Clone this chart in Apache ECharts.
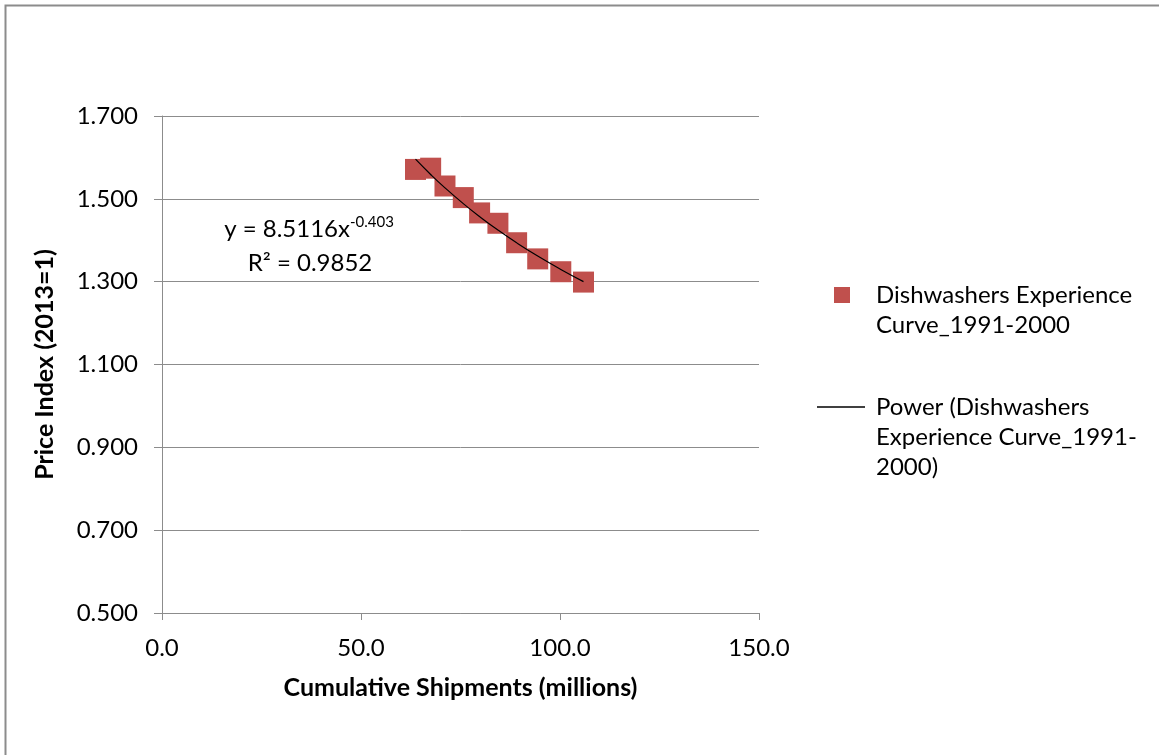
<!DOCTYPE html>
<html>
<head>
<meta charset="utf-8">
<script src="https://cdn.jsdelivr.net/npm/echarts@6/dist/echarts.min.js"></script>
<style>
  html, body { margin: 0; padding: 0; background: #fff; }
  #chart { width: 1159px; height: 755px; }
</style>
</head>
<body>
<div id="chart"></div>
<script>
// Cumulative dishwasher shipments (millions) and price index, 1991-2000
const shipments = [63.7, 67.5, 71.1, 75.7, 79.8, 84.4, 89.1, 94.4, 100.2, 105.9];
const priceIndex = [1.571, 1.574, 1.531, 1.503, 1.466, 1.441, 1.394, 1.355, 1.324, 1.299];

// Power trend line y = a * x^b
const fitA = 8.5116;
const fitB = -0.403;
const fitR2 = 0.9852;

const xTicks = { min: 0, max: 150, interval: 50 };
const yTicks = { min: 0.5, max: 1.7, interval: 0.2 };

const seriesName = 'Dishwashers Experience Curve_1991-2000';
const trendName = 'Power (Dishwashers Experience Curve_1991-2000)';

const FONT = 'Lato';
const GRID_COLOR = '#8c8c8c';
const MARK_COLOR = '#C0504D';

const points = shipments.map((x, i) => [x, priceIndex[i]]);
const trend = shipments.map(x => [x, fitA * Math.pow(x, fitB)]);

const chart = echarts.init(document.getElementById('chart'), null, { renderer: 'canvas' });

chart.setOption({
  animation: false,
  backgroundColor: '#fff',
  textStyle: { fontFamily: FONT },
  grid: { left: 162, top: 116, right: 400, bottom: 142, containLabel: false },
  xAxis: {
    type: 'value',
    min: xTicks.min, max: xTicks.max, interval: xTicks.interval,
    name: 'Cumulative Shipments (millions)',
    nameLocation: 'middle',
    nameGap: 62,
    nameTextStyle: { fontFamily: FONT, fontWeight: 'bold', fontSize: 25, color: '#000' },
    axisLine: { show: true, lineStyle: { color: GRID_COLOR, width: 1 } },
    axisTick: { show: true, inside: false, length: 7, lineStyle: { color: GRID_COLOR } },
    axisLabel: { fontFamily: FONT, fontSize: 24, color: '#000', margin: 23,
      formatter: v => v.toFixed(1) },
    splitLine: { show: false }
  },
  yAxis: {
    type: 'value',
    min: yTicks.min, max: yTicks.max, interval: yTicks.interval,
    name: 'Price Index (2013=1)',
    nameLocation: 'middle',
    nameGap: 105,
    nameRotate: 90,
    nameTextStyle: { fontFamily: FONT, fontWeight: 'bold', fontSize: 25, color: '#000' },
    axisLine: { show: true, lineStyle: { color: GRID_COLOR, width: 1 } },
    axisTick: { show: true, inside: false, length: 8, lineStyle: { color: GRID_COLOR } },
    axisLabel: { fontFamily: FONT, fontSize: 24, color: '#000', margin: 24,
      formatter: v => v.toFixed(3) },
    splitLine: { show: true, lineStyle: { color: GRID_COLOR, width: 1 } }
  },
  legend: [
    {
      // leading blank line keeps the icon level with the first text line
      data: [{ name: seriesName, icon: 'rect' }],
      orient: 'vertical',
      left: 834, top: 250,
      padding: 0,
      itemWidth: 16, itemHeight: 16,
      formatter: () => '\nDishwashers Experience\nCurve_1991-2000',
      textStyle: { fontFamily: FONT, fontSize: 24, color: '#000', lineHeight: 30,
        padding: [0, 0, 0, 21] }
    },
    {
      data: [{ name: trendName, icon: 'rect' }],
      orient: 'vertical',
      left: 817, top: 332,
      padding: 0,
      itemWidth: 48, itemHeight: 1.5,
      formatter: () => '\n\nPower (Dishwashers\nExperience Curve_1991-\n2000)',
      textStyle: { fontFamily: FONT, fontSize: 24, color: '#000', lineHeight: 30,
        padding: [0, 0, 0, 6] }
    }
  ],
  series: [
    {
      name: seriesName,
      type: 'scatter',
      data: points,
      symbol: 'rect',
      symbolSize: 21,
      itemStyle: { color: MARK_COLOR, opacity: 1 },
      z: 2
    },
    {
      name: trendName,
      type: 'line',
      data: trend,
      smooth: true,
      symbol: 'none',
      showSymbol: false,
      itemStyle: { color: '#000' },
      lineStyle: { color: '#000', width: 1.2 },
      z: 3
    }
  ],
  graphic: [
    {
      type: 'rect',
      shape: { x: 5.5, y: 5.5, width: 1300, height: 900 },
      style: { fill: null, stroke: '#8c8c8c', lineWidth: 2 },
      silent: true
    },
    {
      type: 'text',
      x: 309, y: 229,
      style: {
        text: '{a|y = ' + fitA + 'x}{s|' + fitB + '}',
        align: 'center',
        verticalAlign: 'middle',
        rich: {
          a: { fontFamily: FONT, fontSize: 24, color: '#000', lineHeight: 30 },
          s: { fontFamily: FONT, fontSize: 15, color: '#000', lineHeight: 30, padding: [0, 0, 14, 0] }
        }
      }
    },
    {
      type: 'text',
      x: 310, y: 263,
      style: {
        text: 'R² = ' + fitR2,
        align: 'center',
        verticalAlign: 'middle',
        fontFamily: FONT, fontSize: 24, fill: '#000'
      }
    }
  ]
});
</script>
</body>
</html>
